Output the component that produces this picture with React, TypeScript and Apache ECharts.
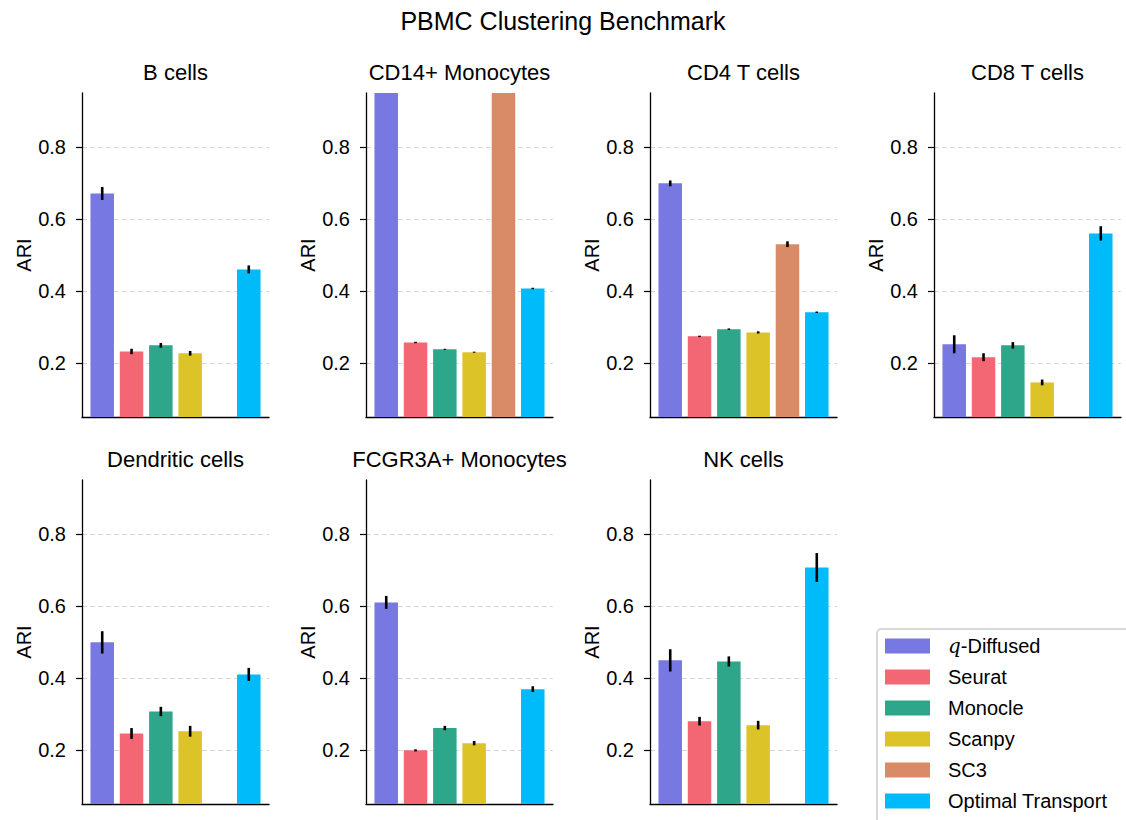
import React, { useEffect, useRef } from "react";
import * as echarts from "echarts";

const methods = ["q-Diffused", "Seurat", "Monocle", "Scanpy", "SC3", "Optimal Transport"];
const colors = ["#7878e2", "#f36674", "#2ea68a", "#dcc428", "#d98a66", "#00bbf9"];
const cellTypes = [
  "B cells",
  "CD14+ Monocytes",
  "CD4 T cells",
  "CD8 T cells",
  "Dendritic cells",
  "FCGR3A+ Monocytes",
  "NK cells",
];

// ARI means (null = method not reported)
const bCells = [0.671, 0.232, 0.249, 0.227, null, 0.46];
const cd14Mono = [0.97, 0.257, 0.238, 0.23, 0.97, 0.407];
const cd4T = [0.699, 0.274, 0.294, 0.285, 0.53, 0.341];
const cd8T = [0.252, 0.216, 0.249, 0.146, null, 0.56];
const dendritic = [0.499, 0.246, 0.307, 0.252, null, 0.41];
const fcgr3aMono = [0.61, 0.199, 0.261, 0.219, null, 0.369];
const nkCells = [0.449, 0.28, 0.446, 0.269, null, 0.707];

// error bar half-lengths
const bCellsErr = [0.018, 0.0075, 0.0065, 0.0065, null, 0.011];
const cd14MonoErr = [0.0, 0.002, 0.0015, 0.0015, 0.0, 0.002];
const cd4TErr = [0.008, 0.002, 0.002, 0.003, 0.008, 0.002];
const cd8TErr = [0.025, 0.011, 0.009, 0.008, null, 0.02];
const dendriticErr = [0.031, 0.015, 0.013, 0.015, null, 0.018];
const fcgr3aMonoErr = [0.018, 0.003, 0.006, 0.006, null, 0.008];
const nkCellsErr = [0.031, 0.012, 0.014, 0.012, null, 0.04];

const yTicks = [0.2, 0.4, 0.6, 0.8];

const panelValues = [bCells, cd14Mono, cd4T, cd8T, dendritic, fcgr3aMono, nkCells];
const panelErrors = [bCellsErr, cd14MonoErr, cd4TErr, cd8TErr, dendriticErr, fcgr3aMonoErr, nkCellsErr];

const FONT = "Liberation Sans";

export default function App() {
  const ref = useRef<HTMLDivElement>(null);

  useEffect(() => {
    document.body.style.margin = "0";
    const chart = echarts.init(ref.current!, null, { renderer: "svg" });

    const colLefts = [82, 366, 650, 934];
    const rowTops = [93, 480];
    const gw = 187;
    const gh = 324;

    const grids: any[] = [];
    const xAxes: any[] = [];
    const yAxes: any[] = [];
    const series: any[] = [];
    const titles: any[] = [
      {
        text: "PBMC Clustering Benchmark",
        left: 563,
        top: 8,
        textAlign: "center",
        padding: 0,
        textStyle: { fontFamily: FONT, fontSize: 25, fontWeight: "normal", color: "#000" },
      },
    ];

    cellTypes.forEach((ct, i) => {
      const r = Math.floor(i / 4);
      const c = i % 4;
      const left = colLefts[c];
      const top = rowTops[r];
      grids.push({ left, top, width: gw, height: gh, containLabel: false });
      titles.push({
        text: ct,
        left: left + gw / 2,
        top: top - 32,
        textAlign: "center",
        padding: 0,
        textStyle: { fontFamily: FONT, fontSize: 22, fontWeight: "normal", color: "#000" },
      });
      xAxes.push({
        type: "value",
        gridIndex: i,
        min: -0.69,
        max: 5.69,
        axisLine: { show: true, onZero: false, lineStyle: { color: "#000", width: 1.3 } },
        axisTick: { show: false },
        axisLabel: { show: false },
        splitLine: { show: false },
      });
      yAxes.push({
        type: "value",
        gridIndex: i,
        min: 0.05,
        max: 0.95,
        name: "ARI",
        nameLocation: "middle",
        nameGap: 48,
        nameTextStyle: { fontFamily: FONT, fontSize: 20, color: "#000" },
        axisLine: { show: true, onZero: false, lineStyle: { color: "#000", width: 1.3 } },
        axisTick: { show: true, length: 6, customValues: yTicks, lineStyle: { color: "#000", width: 1.2 } },
        axisLabel: {
          customValues: yTicks,
          margin: 16,
          fontFamily: FONT,
          fontSize: 20,
          color: "#000",
          formatter: (v: number) => v.toFixed(1),
        },
        splitLine: { show: true, lineStyle: { color: "#d9d9d9", type: [5, 3], width: 1 } },
      });

      const vals = panelValues[i];
      const errs = panelErrors[i];
      methods.forEach((m, j) => {
        const v = vals[j];
        if (v === null) return;
        series.push({
          type: "bar",
          name: m,
          xAxisIndex: i,
          yAxisIndex: i,
          barWidth: 23.5,
          barGap: "-100%",
          itemStyle: { color: colors[j] },
          data: [[j, v]],
          clip: true,
        });
      });
      const errData: any[] = [];
      methods.forEach((m, j) => {
        const v = vals[j];
        const e = errs[j];
        if (v === null || e === null) return;
        errData.push([j, v, e]);
      });
      series.push({
        type: "custom",
        xAxisIndex: i,
        yAxisIndex: i,
        clip: true,
        silent: true,
        encode: { x: 0, y: 1 },
        data: errData,
        z: 10,
        renderItem: (params: any, api: any) => {
          const x = api.value(0);
          const v = api.value(1);
          const e = api.value(2);
          const p1 = api.coord([x, v - e]);
          const p2 = api.coord([x, v + e]);
          return {
            type: "line",
            shape: { x1: p1[0], y1: p1[1], x2: p2[0], y2: p2[1] },
            style: { stroke: "#000", lineWidth: 2.6 },
          };
        },
      });
    });

    chart.setOption({
      animation: false,
      backgroundColor: "#fff",
      title: titles,
      grid: grids,
      xAxis: xAxes,
      yAxis: yAxes,
      graphic: [
        {
          type: "rect",
          z: 0,
          shape: { x: 877, y: 629, width: 300, height: 260, r: 4 },
          style: { fill: "#fff", stroke: "#cccccc", lineWidth: 1.5 },
        },
      ],
      legend: {
        orient: "vertical",
        left: 885,
        top: 636,
        height: 220,
        padding: 0,
        itemWidth: 45,
        itemHeight: 15,
        itemGap: 11,
        icon: "rect",
        selectedMode: false,
        data: methods,
        formatter: (name: string) =>
          name === "q-Diffused" ? "{s|}{q|q}{n|-Diffused}" : "{s|}{n|" + name + "}",
        textStyle: {
          fontFamily: FONT,
          fontSize: 20,
          color: "#000",
          rich: {
            s: { width: 13 },
            q: { fontFamily: "DejaVu Serif", fontStyle: "italic", fontSize: 20, color: "#000" },
            n: { fontFamily: FONT, fontSize: 20, color: "#000" },
          },
        },
      },
      series,
    });

    return () => chart.dispose();
  }, []);

  return <div ref={ref} style={{ width: 1126, height: 820 }} />;
}
